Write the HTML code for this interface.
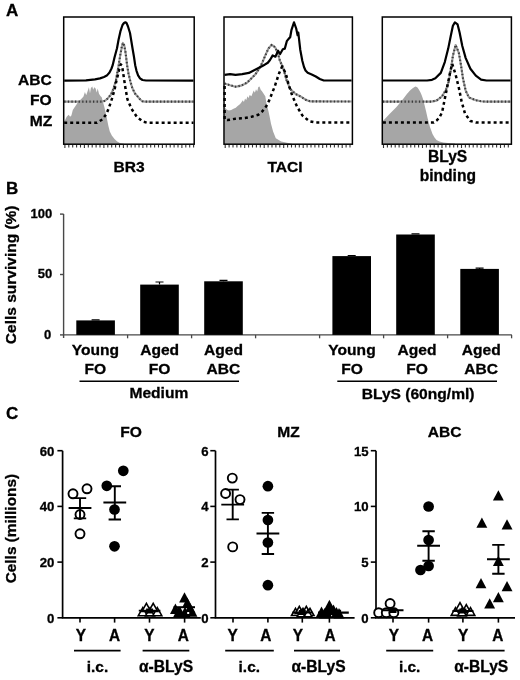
<!DOCTYPE html>
<html><head><meta charset="utf-8"><title>Figure</title>
<style>
html,body{margin:0;padding:0;background:#fff;}
body{width:520px;height:680px;overflow:hidden;}
svg{display:block;will-change:transform;filter:blur(0.4px);}
svg text{font-family:"Liberation Sans", sans-serif;font-weight:bold;fill:#000;stroke:#000;stroke-width:0.3px;}
</style></head>
<body>
<svg width="520" height="680" viewBox="0 0 520 680">
<rect x="0" y="0" width="520" height="680" fill="#fff"/>
<text x="6.0" y="15.6" font-size="17" text-anchor="start" >A</text>
<text transform="translate(51.8,84.6) scale(1,0.955)" font-size="15.6" text-anchor="end" >ABC</text>
<text transform="translate(51.6,104.8) scale(1,0.955)" font-size="15.6" text-anchor="end" >FO</text>
<text transform="translate(52.4,125.7) scale(1,0.955)" font-size="15.6" text-anchor="end" >MZ</text>
<g>
<polygon points="64.2,144.2 64.2,121.0 64.7,120.8 66.7,116.7 68.7,114.7 70.1,116.7 71.4,115.4 72.8,110.0 74.1,108.0 75.5,106.0 76.8,104.0 78.2,102.0 80.2,100.0 82.2,97.9 83.5,96.5 84.9,92.0 86.2,95.2 87.6,91.2 88.9,87.3 90.0,93.2 90.9,88.0 92.3,86.6 93.2,89.8 94.3,87.3 95.6,88.5 96.7,92.5 97.7,88.6 99.0,93.8 100.4,95.9 101.7,97.2 103.0,102.0 104.4,107.3 105.7,112.7 107.1,119.4 108.4,126.1 109.8,131.5 111.8,135.6 114.5,138.9 117.2,141.6 119.9,143.0 124.0,143.8 124.0,144.2" fill="#a6a6a6" stroke="none"/>
<polygon points="224.5,144.2 224.3,106.5 226.6,109.4 228.9,110.6 231.2,110.0 233.5,108.8 235.8,107.7 237.6,106.0 239.3,104.8 241.0,103.1 242.8,100.3 243.9,101.9 245.1,98.5 246.2,100.2 247.4,96.2 248.5,97.9 249.7,95.1 251.4,96.2 252.6,93.3 253.7,90.5 254.9,92.7 256.0,89.3 257.2,91.5 258.3,87.0 259.5,86.4 260.7,89.8 261.8,91.0 263.0,92.7 264.1,94.4 265.3,96.2 266.4,103.1 267.6,107.7 268.7,112.3 269.9,118.1 271.0,123.8 273.1,131.5 275.8,138.3 281.2,141.6 289.3,143.2 292.0,143.8 292.0,144.2" fill="#a6a6a6" stroke="none"/>
<polygon points="382.8,144.2 382.9,121.0 386.7,117.0 390.0,113.5 393.5,110.0 396.5,107.0 400.2,102.5 403.5,98.5 406.9,94.0 410.0,90.5 412.3,88.5 414.5,87.0 415.7,86.6 417.5,87.5 419.0,89.8 420.5,92.5 421.7,95.2 423.0,99.0 424.4,104.6 426.0,111.0 427.5,117.7 429.8,126.5 432.5,133.9 434.5,137.5 436.5,140.0 439.5,141.6 443.3,142.4 448.0,143.0 455.0,143.6 455.0,144.2" fill="#a6a6a6" stroke="none"/>
<polyline points="64.2,101.6 102.4,101.6 105.0,100.8 107.8,98.4 111.0,94.5 113.6,88.5 116.0,80.0 117.8,70.0 118.7,65.2 120.2,55.5 121.8,47.0 122.9,42.9 124.3,45.5 125.6,53.0 127.1,65.2 128.5,73.5 130.5,82.1 132.5,88.5 135.0,93.5 137.3,96.1 140.0,99.2 142.3,101.2 145.0,101.6 193.5,101.6" fill="none" stroke="#9a9a9a" stroke-width="2.1" stroke-linejoin="round"/>
<polyline points="64.2,101.6 102.4,101.6 105.0,100.8 107.8,98.4 111.0,94.5 113.6,88.5 116.0,80.0 117.8,70.0 118.7,65.2 120.2,55.5 121.8,47.0 122.9,42.9 124.3,45.5 125.6,53.0 127.1,65.2 128.5,73.5 130.5,82.1 132.5,88.5 135.0,93.5 137.3,96.1 140.0,99.2 142.3,101.2 145.0,101.6 193.5,101.6" fill="none" stroke="#3a3a3a" stroke-width="2.1" stroke-dasharray="1.3 2.3" stroke-linejoin="round"/>
<polyline points="64.2,122.7 97.0,122.7 102.4,119.4 106.4,114.0 109.1,107.3 111.8,99.2 114.5,89.8 116.5,80.4 117.9,75.0 119.5,68.0 120.8,64.4 122.0,65.5 123.5,75.2 125.5,88.6 127.5,99.4 131.5,108.8 136.9,116.9 143.0,121.6 147.0,122.7 193.5,122.7" fill="none" stroke="#000" stroke-width="2.5" stroke-dasharray="3 3" stroke-linejoin="round"/>
<polyline points="64.2,80.6 86.0,80.4 95.0,79.4 100.0,78.4 104.0,77.0 106.8,75.6 109.5,72.5 111.5,68.5 112.7,65.2 114.5,57.5 117.0,48.3 118.5,40.0 120.4,31.4 122.5,25.0 124.0,23.0 125.4,22.3 126.5,22.9 128.0,26.5 130.0,33.0 132.5,48.3 134.0,57.0 135.2,65.2 136.5,70.8 138.1,75.4 140.0,78.3 142.5,80.0 146.0,80.5 193.5,80.6" fill="none" stroke="#000" stroke-width="2.2" stroke-linejoin="round"/>
<polyline points="224.6,83.5 230.0,85.2 235.5,86.7 241.3,85.6 247.0,82.7 251.0,78.8 255.2,74.6 259.8,67.7 262.1,63.1 265.0,56.2 268.4,48.5 271.8,44.8 275.2,47.3 278.5,55.4 279.9,60.8 283.5,68.5 286.2,79.2 290.2,89.0 295.6,94.0 301.0,96.7 306.3,100.1 310.4,101.4 351.6,101.5" fill="none" stroke="#9a9a9a" stroke-width="2.1" stroke-linejoin="round"/>
<polyline points="224.6,83.5 230.0,85.2 235.5,86.7 241.3,85.6 247.0,82.7 251.0,78.8 255.2,74.6 259.8,67.7 262.1,63.1 265.0,56.2 268.4,48.5 271.8,44.8 275.2,47.3 278.5,55.4 279.9,60.8 283.5,68.5 286.2,79.2 290.2,89.0 295.6,94.0 301.0,96.7 306.3,100.1 310.4,101.4 351.6,101.5" fill="none" stroke="#3a3a3a" stroke-width="2.1" stroke-dasharray="1.3 2.3" stroke-linejoin="round"/>
<polyline points="224.6,86.0 224.6,119.5 227.4,120.1 235.5,118.7 244.9,118.0 251.6,116.7 258.3,114.7 262.4,111.3 266.4,106.0 269.1,100.6 271.8,93.8 274.5,87.1 277.2,79.0 279.2,73.0 282.1,66.4 284.0,70.0 285.9,73.8 288.5,84.2 291.9,94.6 297.1,106.7 302.3,115.4 309.2,121.2 316.2,122.6 351.6,122.6" fill="none" stroke="#000" stroke-width="2.5" stroke-dasharray="3 3" stroke-linejoin="round"/>
<polyline points="224.6,74.9 230.1,74.2 235.5,74.9 242.2,74.2 248.9,72.9 255.6,69.5 262.4,66.1 267.8,62.8 270.0,60.0 272.7,55.4 275.4,56.7 278.1,50.7 280.1,54.0 282.8,49.3 284.8,48.6 286.8,41.2 288.8,38.6 290.2,37.2 291.5,29.8 294.0,22.4 296.2,28.5 297.6,35.2 298.3,32.5 298.9,37.9 300.3,50.0 302.3,60.8 304.0,67.0 305.5,70.5 307.7,72.8 311.7,74.5 315.8,76.5 319.8,79.0 323.8,80.5 351.6,80.5" fill="none" stroke="#000" stroke-width="2.2" stroke-linejoin="round"/>
<polyline points="382.9,101.6 431.1,101.6 436.5,100.6 441.9,96.5 446.0,89.8 448.6,81.7 450.9,69.2 452.9,55.8 455.6,45.0 458.9,53.1 461.0,65.2 463.0,78.6 465.7,90.8 469.0,97.5 475.8,100.2 481.1,101.3 485.0,101.6 510.6,101.6" fill="none" stroke="#9a9a9a" stroke-width="2.1" stroke-linejoin="round"/>
<polyline points="382.9,101.6 431.1,101.6 436.5,100.6 441.9,96.5 446.0,89.8 448.6,81.7 450.9,69.2 452.9,55.8 455.6,45.0 458.9,53.1 461.0,65.2 463.0,78.6 465.7,90.8 469.0,97.5 475.8,100.2 481.1,101.3 485.0,101.6 510.6,101.6" fill="none" stroke="#3a3a3a" stroke-width="2.1" stroke-dasharray="1.3 2.3" stroke-linejoin="round"/>
<polyline points="382.9,122.6 433.8,122.6 436.7,120.4 439.2,118.0 442.1,112.3 444.8,98.8 447.5,85.4 450.2,71.9 452.2,63.8 455.6,74.6 458.9,88.1 461.6,101.5 465.0,113.6 470.4,121.0 475.8,122.5 510.6,122.6" fill="none" stroke="#000" stroke-width="2.5" stroke-dasharray="3 3" stroke-linejoin="round"/>
<polyline points="382.9,80.5 427.1,80.5 432.0,79.8 435.4,78.3 440.8,72.9 444.8,62.1 448.2,48.6 450.9,35.2 452.9,25.8 454.9,22.4 457.6,24.4 459.6,32.5 462.3,46.0 465.7,58.1 470.4,68.8 475.8,75.6 481.1,79.6 486.5,80.5 510.6,80.5" fill="none" stroke="#000" stroke-width="2.2" stroke-linejoin="round"/>
<rect x="63.7" y="17.0" width="130.5" height="127.2" fill="none" stroke="#000" stroke-width="1.5"/>
<path d="M64.9,144.89999999999998v3.2 M68.8,144.89999999999998v2.6 M72.7,144.89999999999998v2.6 M76.6,144.89999999999998v2.6 M80.5,144.89999999999998v2.6 M84.4,144.89999999999998v3.2 M88.3,144.89999999999998v2.6 M92.2,144.89999999999998v2.6 M96.1,144.89999999999998v2.6 M100.0,144.89999999999998v2.6 M103.9,144.89999999999998v3.2 M107.8,144.89999999999998v2.6 M111.7,144.89999999999998v2.6 M115.6,144.89999999999998v2.6 M119.5,144.89999999999998v2.6 M123.4,144.89999999999998v3.2 M127.3,144.89999999999998v2.6 M131.2,144.89999999999998v2.6 M135.1,144.89999999999998v2.6 M139.0,144.89999999999998v2.6 M142.9,144.89999999999998v3.2 M146.8,144.89999999999998v2.6 M150.7,144.89999999999998v2.6 M154.6,144.89999999999998v2.6 M158.5,144.89999999999998v2.6 M162.4,144.89999999999998v3.2 M166.3,144.89999999999998v2.6 M170.2,144.89999999999998v2.6 M174.1,144.89999999999998v2.6 M178.0,144.89999999999998v2.6 M181.9,144.89999999999998v3.2 M185.8,144.89999999999998v2.6 M189.7,144.89999999999998v2.6 M193.6,144.89999999999998v2.6" stroke="#333" stroke-width="1.1" fill="none"/>
<rect x="224.0" y="17.0" width="128.4" height="127.2" fill="none" stroke="#000" stroke-width="1.5"/>
<path d="M225.2,144.89999999999998v3.2 M229.1,144.89999999999998v2.6 M233.0,144.89999999999998v2.6 M236.9,144.89999999999998v2.6 M240.8,144.89999999999998v2.6 M244.7,144.89999999999998v3.2 M248.6,144.89999999999998v2.6 M252.5,144.89999999999998v2.6 M256.4,144.89999999999998v2.6 M260.3,144.89999999999998v2.6 M264.2,144.89999999999998v3.2 M268.1,144.89999999999998v2.6 M272.0,144.89999999999998v2.6 M275.9,144.89999999999998v2.6 M279.8,144.89999999999998v2.6 M283.7,144.89999999999998v3.2 M287.6,144.89999999999998v2.6 M291.5,144.89999999999998v2.6 M295.4,144.89999999999998v2.6 M299.3,144.89999999999998v2.6 M303.2,144.89999999999998v3.2 M307.1,144.89999999999998v2.6 M311.0,144.89999999999998v2.6 M314.9,144.89999999999998v2.6 M318.8,144.89999999999998v2.6 M322.7,144.89999999999998v3.2 M326.6,144.89999999999998v2.6 M330.5,144.89999999999998v2.6 M334.4,144.89999999999998v2.6 M338.3,144.89999999999998v2.6 M342.2,144.89999999999998v3.2 M346.1,144.89999999999998v2.6 M350.0,144.89999999999998v2.6" stroke="#333" stroke-width="1.1" fill="none"/>
<rect x="382.3" y="17.0" width="129.1" height="127.2" fill="none" stroke="#000" stroke-width="1.5"/>
<path d="M383.5,144.89999999999998v3.2 M387.4,144.89999999999998v2.6 M391.3,144.89999999999998v2.6 M395.2,144.89999999999998v2.6 M399.1,144.89999999999998v2.6 M403.0,144.89999999999998v3.2 M406.9,144.89999999999998v2.6 M410.8,144.89999999999998v2.6 M414.7,144.89999999999998v2.6 M418.6,144.89999999999998v2.6 M422.5,144.89999999999998v3.2 M426.4,144.89999999999998v2.6 M430.3,144.89999999999998v2.6 M434.2,144.89999999999998v2.6 M438.1,144.89999999999998v2.6 M442.0,144.89999999999998v3.2 M445.9,144.89999999999998v2.6 M449.8,144.89999999999998v2.6 M453.7,144.89999999999998v2.6 M457.6,144.89999999999998v2.6 M461.5,144.89999999999998v3.2 M465.4,144.89999999999998v2.6 M469.3,144.89999999999998v2.6 M473.2,144.89999999999998v2.6 M477.1,144.89999999999998v2.6 M481.0,144.89999999999998v3.2 M484.9,144.89999999999998v2.6 M488.8,144.89999999999998v2.6 M492.7,144.89999999999998v2.6 M496.6,144.89999999999998v2.6 M500.5,144.89999999999998v3.2 M504.4,144.89999999999998v2.6 M508.3,144.89999999999998v2.6" stroke="#333" stroke-width="1.1" fill="none"/>
</g>
<text transform="translate(129.0,172.0) scale(1,0.92)" font-size="15.6" text-anchor="middle" >BR3</text>
<text transform="translate(285.0,171.7) scale(1,0.95)" font-size="15.6" text-anchor="middle" >TACI</text>
<text x="447.6" y="161.7" font-size="15.6" text-anchor="middle" >BLyS</text>
<text x="447.8" y="180.7" font-size="15.6" text-anchor="middle" >binding</text>
<text x="6.0" y="194.0" font-size="17" text-anchor="start" >B</text>
<path d="M63.6,214.1V338.09999999999997M63.6,334.9H511.8" fill="none" stroke="#484848" stroke-width="1.4"/>
<path d="M60.0,214.1H63.6" stroke="#484848" stroke-width="1.4"/>
<text x="52.3" y="217.9" font-size="13" text-anchor="end" >100</text>
<path d="M60.0,274.5H63.6" stroke="#484848" stroke-width="1.4"/>
<text x="52.3" y="278.3" font-size="13" text-anchor="end" >50</text>
<path d="M60.0,334.9H63.6" stroke="#484848" stroke-width="1.4"/>
<text x="51.3" y="338.7" font-size="13" text-anchor="end" >0</text>
<path d="M127.6,334.9v3.4" stroke="#484848" stroke-width="1.3"/>
<path d="M191.6,334.9v3.4" stroke="#484848" stroke-width="1.3"/>
<path d="M255.6,334.9v3.4" stroke="#484848" stroke-width="1.3"/>
<path d="M319.6,334.9v3.4" stroke="#484848" stroke-width="1.3"/>
<path d="M383.6,334.9v3.4" stroke="#484848" stroke-width="1.3"/>
<path d="M447.6,334.9v3.4" stroke="#484848" stroke-width="1.3"/>
<path d="M511.6,334.9v3.4" stroke="#484848" stroke-width="1.3"/>
<text transform="translate(15.5,274.8) rotate(-90)" font-size="15.5" text-anchor="middle">Cells surviving (%)</text>
<rect x="76.3" y="320.4" width="38.6" height="14.5" fill="#000"/>
<path d="M95.6,320.4V319.8M91.6,319.8H99.6" stroke="#000" stroke-width="1.2"/>
<rect x="140.2" y="284.6" width="38.6" height="50.3" fill="#000"/>
<path d="M159.5,284.6V282.0M155.5,282.0H163.5" stroke="#000" stroke-width="1.2"/>
<rect x="204.2" y="281.3" width="38.6" height="53.6" fill="#000"/>
<path d="M223.5,281.3V280.3M219.5,280.3H227.5" stroke="#000" stroke-width="1.2"/>
<rect x="332.4" y="256.1" width="38.6" height="78.8" fill="#000"/>
<path d="M351.7,256.1V255.5M347.7,255.5H355.7" stroke="#000" stroke-width="1.2"/>
<rect x="396.2" y="234.5" width="38.6" height="100.4" fill="#000"/>
<path d="M415.5,234.5V233.8M411.5,233.8H419.5" stroke="#000" stroke-width="1.2"/>
<rect x="460.3" y="268.9" width="38.6" height="66.0" fill="#000"/>
<path d="M479.6,268.9V268.2M475.6,268.2H483.6" stroke="#000" stroke-width="1.2"/>
<text transform="translate(95.4,355.1) scale(1,0.92)" font-size="15.6" text-anchor="middle" >Young</text>
<text transform="translate(95.4,373.9) scale(1,0.92)" font-size="15.6" text-anchor="middle" >FO</text>
<text transform="translate(159.6,355.1) scale(1,0.92)" font-size="15.6" text-anchor="middle" >Aged</text>
<text transform="translate(159.6,373.9) scale(1,0.92)" font-size="15.6" text-anchor="middle" >FO</text>
<text transform="translate(223.5,355.1) scale(1,0.92)" font-size="15.6" text-anchor="middle" >Aged</text>
<text transform="translate(223.5,373.9) scale(1,0.92)" font-size="15.6" text-anchor="middle" >ABC</text>
<text transform="translate(352.0,355.1) scale(1,0.92)" font-size="15.6" text-anchor="middle" >Young</text>
<text transform="translate(352.0,373.9) scale(1,0.92)" font-size="15.6" text-anchor="middle" >FO</text>
<text transform="translate(417.0,355.1) scale(1,0.92)" font-size="15.6" text-anchor="middle" >Aged</text>
<text transform="translate(417.0,373.9) scale(1,0.92)" font-size="15.6" text-anchor="middle" >FO</text>
<text transform="translate(481.2,355.1) scale(1,0.92)" font-size="15.6" text-anchor="middle" >Aged</text>
<text transform="translate(481.2,373.9) scale(1,0.92)" font-size="15.6" text-anchor="middle" >ABC</text>
<path d="M79.5,381.2H239M337.3,381.2H497" stroke="#000" stroke-width="1.6"/>
<text transform="translate(158.9,398.2) scale(1,0.92)" font-size="15.6" text-anchor="middle" >Medium</text>
<text transform="translate(418.1,398.6) scale(1,0.92)" font-size="15.6" text-anchor="middle" >BLyS (60ng/ml)</text>
<text x="6.0" y="419.2" font-size="17" text-anchor="start" >C</text>
<text transform="translate(16.2,528.6) rotate(-90)" font-size="15.4" text-anchor="middle">Cells (millions)</text>
<path d="M62.6,450.7V617.8H200.8" fill="none" stroke="#000" stroke-width="1.7"/>
<path d="M57.4,450.7H62.6" stroke="#000" stroke-width="1.6"/>
<text x="54.3" y="455.7" font-size="13.2" text-anchor="end" >60</text>
<path d="M57.4,506.4H62.6" stroke="#000" stroke-width="1.6"/>
<text x="54.3" y="511.4" font-size="13.2" text-anchor="end" >40</text>
<path d="M57.4,562.1H62.6" stroke="#000" stroke-width="1.6"/>
<text x="54.3" y="567.0999999999999" font-size="13.2" text-anchor="end" >20</text>
<path d="M57.4,617.8H62.6" stroke="#000" stroke-width="1.6"/>
<text x="54.3" y="622.8" font-size="13.2" text-anchor="end" >0</text>
<path d="M80.0,617.8v4.8" stroke="#000" stroke-width="1.6"/>
<path d="M114.6,617.8v4.8" stroke="#000" stroke-width="1.6"/>
<path d="M149.5,617.8v4.8" stroke="#000" stroke-width="1.6"/>
<path d="M184.6,617.8v4.8" stroke="#000" stroke-width="1.6"/>
<text transform="translate(131.0,437.3) scale(1,0.96)" font-size="15.6" text-anchor="middle" >FO</text>
<text transform="translate(80.9,640.9) scale(1,1.05)" font-size="15.4" text-anchor="middle" >Y</text>
<text transform="translate(114.6,640.9) scale(1,1.05)" font-size="15.4" text-anchor="middle" >A</text>
<text transform="translate(149.3,640.9) scale(1,1.05)" font-size="15.4" text-anchor="middle" >Y</text>
<text transform="translate(183.3,640.9) scale(1,1.05)" font-size="15.4" text-anchor="middle" >A</text>
<path d="M215.5,450.7V617.8H354.6" fill="none" stroke="#000" stroke-width="1.7"/>
<path d="M210.3,450.7H215.5" stroke="#000" stroke-width="1.6"/>
<text x="208.6" y="455.7" font-size="13.2" text-anchor="end" >6</text>
<path d="M210.3,506.4H215.5" stroke="#000" stroke-width="1.6"/>
<text x="208.6" y="511.4" font-size="13.2" text-anchor="end" >4</text>
<path d="M210.3,562.1H215.5" stroke="#000" stroke-width="1.6"/>
<text x="208.6" y="567.0999999999999" font-size="13.2" text-anchor="end" >2</text>
<path d="M210.3,617.8H215.5" stroke="#000" stroke-width="1.6"/>
<text x="208.6" y="622.8" font-size="13.2" text-anchor="end" >0</text>
<path d="M233.0,617.8v4.8" stroke="#000" stroke-width="1.6"/>
<path d="M267.9,617.8v4.8" stroke="#000" stroke-width="1.6"/>
<path d="M302.3,617.8v4.8" stroke="#000" stroke-width="1.6"/>
<path d="M329.4,617.8v4.8" stroke="#000" stroke-width="1.6"/>
<text transform="translate(288.4,437.3) scale(1,0.96)" font-size="15.6" text-anchor="middle" >MZ</text>
<text transform="translate(232.6,640.9) scale(1,1.05)" font-size="15.4" text-anchor="middle" >Y</text>
<text transform="translate(265.8,640.9) scale(1,1.05)" font-size="15.4" text-anchor="middle" >A</text>
<text transform="translate(297.9,640.9) scale(1,1.05)" font-size="15.4" text-anchor="middle" >Y</text>
<text transform="translate(330.0,640.9) scale(1,1.05)" font-size="15.4" text-anchor="middle" >A</text>
<path d="M376.0,450.7V617.8H515.0" fill="none" stroke="#000" stroke-width="1.7"/>
<path d="M370.8,450.7H376.0" stroke="#000" stroke-width="1.6"/>
<text x="368.6" y="455.7" font-size="13.2" text-anchor="end" >15</text>
<path d="M370.8,506.4H376.0" stroke="#000" stroke-width="1.6"/>
<text x="368.6" y="511.4" font-size="13.2" text-anchor="end" >10</text>
<path d="M370.8,562.1H376.0" stroke="#000" stroke-width="1.6"/>
<text x="368.6" y="567.0999999999999" font-size="13.2" text-anchor="end" >5</text>
<path d="M370.8,617.8H376.0" stroke="#000" stroke-width="1.6"/>
<text x="368.6" y="622.8" font-size="13.2" text-anchor="end" >0</text>
<path d="M393.0,617.8v4.8" stroke="#000" stroke-width="1.6"/>
<path d="M428.6,617.8v4.8" stroke="#000" stroke-width="1.6"/>
<path d="M462.9,617.8v4.8" stroke="#000" stroke-width="1.6"/>
<path d="M498.4,617.8v4.8" stroke="#000" stroke-width="1.6"/>
<text transform="translate(444.6,437.3) scale(1,0.96)" font-size="15.6" text-anchor="middle" >ABC</text>
<text transform="translate(393.8,640.9) scale(1,1.05)" font-size="15.4" text-anchor="middle" >Y</text>
<text transform="translate(427.6,640.9) scale(1,1.05)" font-size="15.4" text-anchor="middle" >A</text>
<text transform="translate(463.2,640.9) scale(1,1.05)" font-size="15.4" text-anchor="middle" >Y</text>
<text transform="translate(497.7,640.9) scale(1,1.05)" font-size="15.4" text-anchor="middle" >A</text>
<path d="M74.0,650.6H120.6M142.6,650.6H189.3" stroke="#000" stroke-width="1.6"/>
<text x="97.5" y="671.6" font-size="15.4" text-anchor="middle" >i.c.</text>
<text x="166.0" y="671.6" font-size="15.6" text-anchor="middle" >&#945;-BLyS</text>
<path d="M225.2,650.6H273.8M294.0,650.6H340.0" stroke="#000" stroke-width="1.6"/>
<text x="249.3" y="671.6" font-size="15.4" text-anchor="middle" >i.c.</text>
<text x="318.5" y="671.6" font-size="15.6" text-anchor="middle" >&#945;-BLyS</text>
<path d="M386.2,650.6H433.2M457.8,650.6H504.6" stroke="#000" stroke-width="1.6"/>
<text x="409.7" y="671.6" font-size="15.4" text-anchor="middle" >i.c.</text>
<text x="481.2" y="671.6" font-size="15.6" text-anchor="middle" >&#945;-BLyS</text>
<circle cx="73.0" cy="493.8" r="4.5" fill="#fff" stroke="#000" stroke-width="1.9"/>
<circle cx="87.0" cy="488.8" r="4.5" fill="#fff" stroke="#000" stroke-width="1.9"/>
<circle cx="80.0" cy="514.5" r="4.5" fill="#fff" stroke="#000" stroke-width="1.9"/>
<circle cx="80.0" cy="533.8" r="4.5" fill="#fff" stroke="#000" stroke-width="1.9"/>
<path d="M68.6,508.0H91.4M80.0,498.1V518.4M73.8,498.1H86.2M73.8,518.4H86.2" stroke="#000" stroke-width="1.9" fill="none"/>
<circle cx="106.8" cy="485.8" r="5.35" fill="#000"/>
<circle cx="123.3" cy="470.8" r="5.35" fill="#000"/>
<circle cx="114.5" cy="509.5" r="5.35" fill="#000"/>
<circle cx="114.5" cy="546.3" r="5.35" fill="#000"/>
<path d="M103.4,502.5H126.2M114.8,486.3V519.5M108.6,486.3H121.0M108.6,519.5H121.0" stroke="#000" stroke-width="1.9" fill="none"/>
<polygon points="142.8,607.6 138.3,615.7 147.3,615.7" fill="#fff" stroke="#000" stroke-width="1.6" stroke-linejoin="miter"/>
<polygon points="150.0,607.8 145.5,615.9 154.5,615.9" fill="#fff" stroke="#000" stroke-width="1.6" stroke-linejoin="miter"/>
<polygon points="157.3,607.6 152.8,615.7 161.8,615.7" fill="#fff" stroke="#000" stroke-width="1.6" stroke-linejoin="miter"/>
<polygon points="146.4,603.3 141.9,611.4 150.9,611.4" fill="#fff" stroke="#000" stroke-width="1.6" stroke-linejoin="miter"/>
<polygon points="153.2,603.3 148.7,611.4 157.7,611.4" fill="#fff" stroke="#000" stroke-width="1.6" stroke-linejoin="miter"/>
<path d="M138.8,610.6H160.4M149.6,609.5V612.5M146.1,609.5H153.1M146.1,612.5H153.1" stroke="#000" stroke-width="1.9" fill="none"/>
<polygon points="175.4,603.6 170.0,613.9 180.8,613.9" fill="#000"/>
<polygon points="180.0,606.4 174.6,616.7 185.4,616.7" fill="#000"/>
<polygon points="185.0,606.8 179.6,617.1 190.4,617.1" fill="#000"/>
<polygon points="178.5,607.0 173.1,617.3 183.9,617.3" fill="#000"/>
<polygon points="192.0,606.4 186.6,616.7 197.4,616.7" fill="#000"/>
<polygon points="190.0,602.6 184.6,612.9 195.4,612.9" fill="#000"/>
<polygon points="187.3,597.6 181.9,607.9 192.8,607.9" fill="#000"/>
<polygon points="184.5,592.3 179.1,602.6 189.9,602.6" fill="#000"/>
<path d="M173.5,607.2H195" stroke="#000" stroke-width="2"/>
<rect x="187.2" y="612.0" width="2" height="2" fill="#fff"/>
<circle cx="232.3" cy="478.1" r="4.5" fill="#fff" stroke="#000" stroke-width="1.9"/>
<circle cx="225.6" cy="493.5" r="4.5" fill="#fff" stroke="#000" stroke-width="1.9"/>
<circle cx="240.0" cy="499.6" r="4.5" fill="#fff" stroke="#000" stroke-width="1.9"/>
<circle cx="232.7" cy="546.9" r="4.5" fill="#fff" stroke="#000" stroke-width="1.9"/>
<path d="M221.3,504.6H244.1M232.7,489.6V519.4M226.5,489.6H238.9M226.5,519.4H238.9" stroke="#000" stroke-width="1.9" fill="none"/>
<circle cx="267.9" cy="486.2" r="5.35" fill="#000"/>
<circle cx="267.9" cy="520.0" r="5.35" fill="#000"/>
<circle cx="267.9" cy="542.5" r="5.35" fill="#000"/>
<circle cx="267.9" cy="585.2" r="5.35" fill="#000"/>
<path d="M256.5,533.5H279.3M267.9,512.9V554.0M261.7,512.9H274.1M261.7,554.0H274.1" stroke="#000" stroke-width="1.9" fill="none"/>
<polygon points="295.5,608.3 291.5,615.5 299.5,615.5" fill="#fff" stroke="#000" stroke-width="1.6" stroke-linejoin="miter"/>
<polygon points="299.3,606.3 295.3,613.5 303.3,613.5" fill="#fff" stroke="#000" stroke-width="1.6" stroke-linejoin="miter"/>
<polygon points="303.0,608.3 299.0,615.5 307.0,615.5" fill="#fff" stroke="#000" stroke-width="1.6" stroke-linejoin="miter"/>
<polygon points="306.3,606.3 302.3,613.5 310.3,613.5" fill="#fff" stroke="#000" stroke-width="1.6" stroke-linejoin="miter"/>
<polygon points="310.0,608.3 306.0,615.5 314.0,615.5" fill="#fff" stroke="#000" stroke-width="1.6" stroke-linejoin="miter"/>
<polygon points="301.0,609.7 297.0,616.9 305.0,616.9" fill="#fff" stroke="#000" stroke-width="1.6" stroke-linejoin="miter"/>
<polygon points="308.0,609.7 304.0,616.9 312.0,616.9" fill="#fff" stroke="#000" stroke-width="1.6" stroke-linejoin="miter"/>
<path d="M292.3,612.5H312.3M302.3,611.0V614.0M298.8,611.0H305.8M298.8,614.0H305.8" stroke="#000" stroke-width="1.9" fill="none"/>
<polygon points="329.4,601.1 323.9,611.4 334.9,611.4" fill="#000"/>
<polygon points="321.5,606.6 316.0,616.9 327.0,616.9" fill="#000"/>
<polygon points="333.5,604.6 328.0,614.9 339.0,614.9" fill="#000"/>
<polygon points="327.0,607.6 321.5,617.9 332.5,617.9" fill="#000"/>
<polygon points="336.5,607.1 331.0,617.4 342.0,617.4" fill="#000"/>
<polygon points="339.0,608.1 333.5,618.4 344.5,618.4" fill="#000"/>
<polygon points="324.5,608.1 319.0,618.4 330.0,618.4" fill="#000"/>
<polygon points="329.4,599.8 321.9,613.9 336.9,613.9" fill="#000"/>
<path d="M318,612.6H348.8M340,609.8V615.0" stroke="#000" stroke-width="2.2"/>
<circle cx="378.7" cy="612.7" r="4.5" fill="#fff" stroke="#000" stroke-width="1.9"/>
<circle cx="390.1" cy="603.5" r="4.5" fill="#fff" stroke="#000" stroke-width="1.9"/>
<circle cx="386.3" cy="612.7" r="4.5" fill="#fff" stroke="#000" stroke-width="1.9"/>
<circle cx="393.8" cy="612.7" r="4.5" fill="#fff" stroke="#000" stroke-width="1.9"/>
<path d="M382.5,610.3H403.5M393.0,608.8V612.0M389.5,608.8H396.5M389.5,612.0H396.5" stroke="#000" stroke-width="1.9" fill="none"/>
<polygon points="455.5,607.7 451.2,615.4 459.8,615.4" fill="#fff" stroke="#000" stroke-width="1.6" stroke-linejoin="miter"/>
<polygon points="460.0,602.7 455.7,610.4 464.3,610.4" fill="#fff" stroke="#000" stroke-width="1.6" stroke-linejoin="miter"/>
<polygon points="466.3,604.7 462.0,612.4 470.6,612.4" fill="#fff" stroke="#000" stroke-width="1.6" stroke-linejoin="miter"/>
<polygon points="470.5,607.7 466.2,615.4 474.8,615.4" fill="#fff" stroke="#000" stroke-width="1.6" stroke-linejoin="miter"/>
<polygon points="462.0,608.2 457.7,615.9 466.3,615.9" fill="#fff" stroke="#000" stroke-width="1.6" stroke-linejoin="miter"/>
<path d="M452.4,611.0H473.4M462.9,609.5V612.5M459.4,609.5H466.4M459.4,612.5H466.4" stroke="#000" stroke-width="1.9" fill="none"/>
<circle cx="428.6" cy="506.5" r="5.35" fill="#000"/>
<circle cx="428.6" cy="540.0" r="5.35" fill="#000"/>
<circle cx="420.5" cy="570.0" r="5.35" fill="#000"/>
<circle cx="428.6" cy="566.0" r="5.35" fill="#000"/>
<path d="M417.2,545.8H440.0M428.6,531.3V560.8M422.4,531.3H434.8M422.4,560.8H434.8" stroke="#000" stroke-width="1.9" fill="none"/>
<polygon points="498.4,490.3 492.9,500.6 503.8,500.6" fill="#000"/>
<polygon points="481.9,517.4 476.4,527.7 487.3,527.7" fill="#000"/>
<polygon points="507.0,519.2 501.6,529.5 512.5,529.5" fill="#000"/>
<polygon points="498.4,555.8 492.9,566.1 503.8,566.1" fill="#000"/>
<polygon points="481.0,578.0 475.6,588.3 486.4,588.3" fill="#000"/>
<polygon points="507.0,580.9 501.6,591.2 512.5,591.2" fill="#000"/>
<polygon points="498.4,591.9 492.9,602.2 503.8,602.2" fill="#000"/>
<polygon points="489.7,598.2 484.2,608.5 495.1,608.5" fill="#000"/>
<path d="M487.0,559.3H509.8M498.4,544.9V573.7M492.2,544.9H504.6M492.2,573.7H504.6" stroke="#000" stroke-width="1.9" fill="none"/>
</svg>
</body></html>
